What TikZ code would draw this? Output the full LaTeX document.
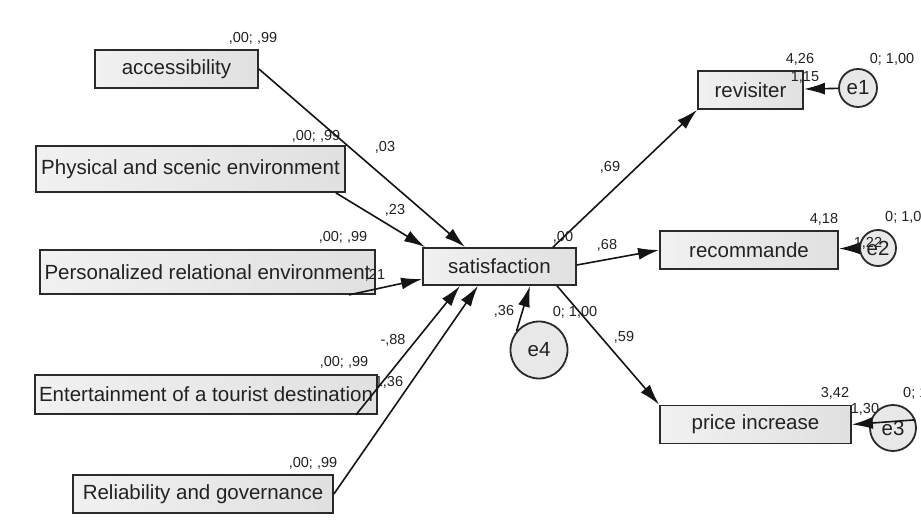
\documentclass[tikz,border=0pt]{standalone}
\usepackage{fontspec}
\setmainfont{Liberation Sans}
\usetikzlibrary{arrows.meta,calc}
\definecolor{boxline}{HTML}{2A2A2A}
\definecolor{txtgray}{HTML}{222222}

\begin{document}
\begin{tikzpicture}[x=1pt, y=1pt,
  every node/.style={text=txtgray},
  var/.style={draw=boxline, line width=1.8pt, left color=gray!11, right color=gray!24, inner sep=0pt, font=\fontsize{20.5}{24}\selectfont},
  err/.style={circle, draw=boxline, line width=1.8pt, fill=gray!18, inner sep=0pt, font=\fontsize{20.5}{24}\selectfont},
  est/.style={inner sep=0pt, font=\fontsize{14.5}{17}\selectfont},
  path/.style={-{Latex[length=21pt,width=12pt]}, line width=1.6pt, draw=black!92}]

\useasboundingbox (0,0) rectangle (921,520);
\fill[white] (0,0) rectangle (921,520);
\clip (0,0) rectangle (921,520);

% Nodes
\node (acc) [var, minimum width=163pt, minimum height=38pt] at (176.5,451) {accessibility};
\node (phys) [var, minimum width=309pt, minimum height=46pt] at (190.5,351) {Physical and scenic environment};
\node (pers) [var, minimum width=335pt, minimum height=44pt] at (207.5,248) {Personalized relational environment};
\node (ent) [var, minimum width=342pt, minimum height=39pt] at (206,125.5) {Entertainment of a tourist destination};
\node (rel) [var, minimum width=260pt, minimum height=38pt] at (203,26) {Reliability and governance};
\node (sat) [var, minimum width=153pt, minimum height=37pt] at (499.5,253.5) {satisfaction};
\node (rev) [var, minimum width=105pt, minimum height=38pt] at (750.5,430) {revisiter};
\node (rec) [var, minimum width=178pt, minimum height=38pt] at (749,270) {recommande};
\node (price) [var, minimum width=191pt, minimum height=38pt] at (755.5,95.5) {price increase};
\node (e1) [err, minimum size=38pt] at (858,432) {e1};
\node (e2) [err, minimum size=36pt] at (878,272) {e2};
\node (e3) [err, minimum size=46pt] at (893,92) {e3};
\node (e4) [err, minimum size=57pt] at (539,170) {e4};

% Arrows
\draw[path] (acc.east) -- ([xshift=-34.5pt]sat.north);
\draw[path] ([xshift=-10pt]phys.south east) -- ([xshift=3pt]sat.north west);
\draw[path] ([xshift=-27pt]pers.south east) -- ([yshift=-12.5pt]sat.west);
\draw[path] ([xshift=-22pt]ent.south east) -- ([xshift=-39.5pt]sat.south);
\draw[path] (rel.east) -- ([xshift=-21.5pt]sat.south);
\draw[path] (e4.140) -- ([xshift=30.5pt]sat.south);
\draw[path] ([xshift=53.5pt]sat.north) -- (rev.south west);
\draw[path] ([yshift=1.5pt]sat.east) -- (rec.west);
\draw[path] ([xshift=57.5pt]sat.south) -- (price.north west);
\draw[path] (e1) -- (rev);
\draw[path] (e2) -- (rec);
\draw[path] (e3.20) -- (price.east);

% Estimates
\node (vacc) [est] at (253,482) {,00; ,99};
\node (vphys) [est] at (316,384) {,00; ,99};
\node (vpers) [est] at (343,283) {,00; ,99};
\node (vent) [est] at (344,158) {,00; ,99};
\node (vrel) [est] at (313,57) {,00; ,99};
\node (wacc) [est] at (385,373) {,03};
\node (wphys) [est] at (395,310) {,23};
\node (wpers) [est] at (375,245) {,21};
\node (went) [est] at (393,180) {-,88};
\node (wrel) [est] at (389,138) {1,36};
\node (we4) [est] at (504,209) {,36};
\node (ve4) [est] at (575,208) {0; 1,00};
\node (isat) [est] at (563,283) {,00};
\node (wrev) [est] at (610,353) {,69};
\node (wrec) [est] at (607,275) {,68};
\node (wprice) [est] at (624,183) {,59};
\node (irev) [est] at (800,461) {4,26};
\node (ve1) [est] at (892,461) {0; 1,00};
\node (we1) [est] at (805,443) {1,15};
\node (irec) [est] at (824,301) {4,18};
\node (ve2) [est, anchor=west] at (885,303) {0; 1,00};
\node (we2) [est] at (868,277) {1,22};
\node (iprice) [est] at (835,127) {3,42};
\node (ve3) [est, anchor=west] at (903,127) {0; 1,00};
\node (we3) [est] at (865,111) {1,30};

\end{tikzpicture}
\end{document}
